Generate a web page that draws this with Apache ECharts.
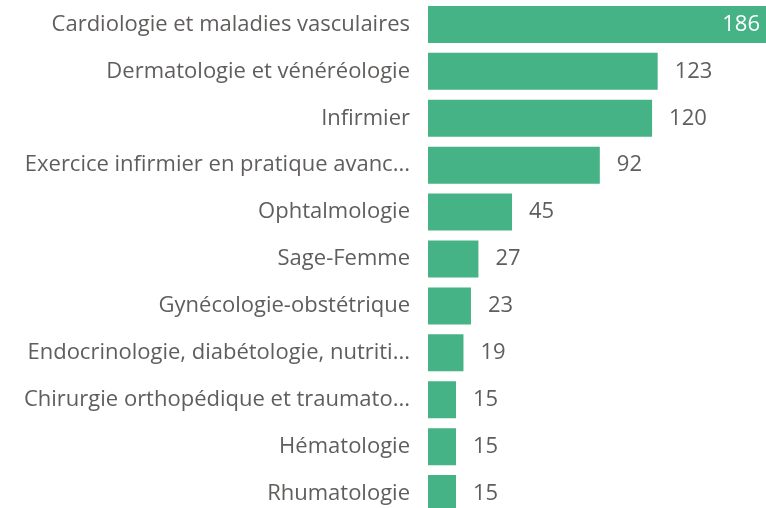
<!DOCTYPE html>
<html>
<head>
<meta charset="utf-8">
<script src="https://cdn.jsdelivr.net/npm/echarts@6/dist/echarts.min.js"></script>
<style>
    html, body { margin: 0; padding: 0; background: #fff; }
    #chart { width: 766px; height: 508px; }
</style>
</head>
<body>
<div id="chart"></div>
<script>
const categories = [
    'Cardiologie et maladies vasculaires',
    'Dermatologie et vénéréologie',
    'Infirmier',
    'Exercice infirmier en pratique avanc...',
    'Ophtalmologie',
    'Sage-Femme',
    'Gynécologie-obstétrique',
    'Endocrinologie, diabétologie, nutriti...',
    'Chirurgie orthopédique et traumato...',
    'Hématologie',
    'Rhumatologie'
]
const values = [186, 123, 120, 92, 45, 27, 23, 19, 15, 15, 15]

const font = '"Segoe UI", "Open Sans", sans-serif'
const textColor = '#605E5C'

const chart = echarts.init(document.getElementById('chart'))
chart.setOption({
    animation: false,
    grid: {
        left: 428,
        top: 1,
        width: 338,
        height: 516,
        // let the last row run past the bottom edge
        outerBoundsMode: 'none'
    },
    xAxis: {
        type: 'value',
        min: 0,
        max: 181,
        show: false
    },
    yAxis: {
        type: 'category',
        data: categories,
        inverse: true,
        axisLine: { show: false },
        axisTick: { show: false },
        axisLabel: {
            margin: 18,
            fontFamily: font,
            fontSize: 22,
            color: textColor
        }
    },
    series: [{
        type: 'bar',
        data: values.map((v, i) => ({
            value: v,
            // the top bar runs off the edge, so its label sits inside
            label: i === 0 ? { position: 'insideRight', color: '#fff', distance: 6 } : {}
        })),
        barWidth: 37,
        clip: true,
        itemStyle: { color: '#45B385' },
        label: {
            show: true,
            position: 'right',
            distance: 17,
            fontFamily: font,
            fontSize: 22,
            color: textColor
        }
    }]
})
</script>
</body>
</html>
